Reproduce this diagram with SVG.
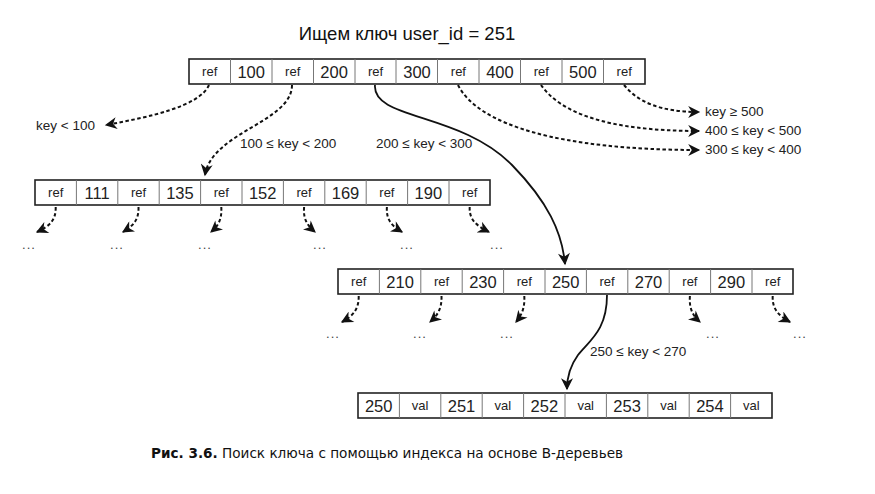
<svg xmlns="http://www.w3.org/2000/svg" width="875" height="494" viewBox="0 0 875 494">
<style>
.box{fill:#fff;stroke:#222;stroke-width:1.6}
.div{stroke:#777;stroke-width:1}
.ref{font-family:"Liberation Sans",Arial,sans-serif;font-size:13px;fill:#222;text-anchor:middle}
.num{font-family:"Liberation Sans",Arial,sans-serif;font-size:16.5px;fill:#222;text-anchor:middle}
.lbl{font-family:"Liberation Sans",Arial,sans-serif;font-size:13.5px;fill:#222}
.dots{font-family:"Liberation Sans",Arial,sans-serif;font-size:13px;letter-spacing:1px;fill:#444;text-anchor:middle}
.dash{fill:none;stroke:#111;stroke-width:2;stroke-dasharray:3.5 2.5}
.solid{fill:none;stroke:#111;stroke-width:1.8}
</style>
<defs>
<marker id="ah" viewBox="0 0 10 10" refX="9" refY="5" markerWidth="13" markerHeight="12" markerUnits="userSpaceOnUse" orient="auto">
<path d="M0,0 L10,5 L0,10 L3,5 z" fill="#111"/>
</marker>
</defs>
<text x="407" y="40" font-family="Liberation Sans,Arial,sans-serif" font-size="18.5" fill="#111" text-anchor="middle">Ищем ключ user_id = 251</text>

<g id="root">
<rect class="box" x="189" y="59" width="456" height="25"/>
<path class="div" d="M230.5,59V84M272,59V84M313.5,59V84M355,59V84M396,59V84M437.5,59V84M479,59V84M520.5,59V84M562,59V84M603.5,59V84"/>
<text class="ref" x="209.7" y="76">ref</text><text class="num" x="251.2" y="77.5">100</text>
<text class="ref" x="292.7" y="76">ref</text><text class="num" x="334.1" y="77.5">200</text>
<text class="ref" x="375.5" y="76">ref</text><text class="num" x="417" y="77.5">300</text>
<text class="ref" x="458.4" y="76">ref</text><text class="num" x="499.9" y="77.5">400</text>
<text class="ref" x="541.3" y="76">ref</text><text class="num" x="582.8" y="77.5">500</text>
<text class="ref" x="624.2" y="76">ref</text>
</g>

<g id="node100">
<rect class="box" x="35" y="180" width="455" height="25"/>
<path class="div" d="M76.4,180V205M117.8,180V205M159.2,180V205M200.6,180V205M242,180V205M283.4,180V205M324.8,180V205M366.2,180V205M407.6,180V205M449,180V205"/>
<text class="ref" x="55.7" y="197">ref</text><text class="num" x="97.1" y="198.5">111</text>
<text class="ref" x="138.5" y="197">ref</text><text class="num" x="179.9" y="198.5">135</text>
<text class="ref" x="221.3" y="197">ref</text><text class="num" x="262.7" y="198.5">152</text>
<text class="ref" x="304.1" y="197">ref</text><text class="num" x="345.5" y="198.5">169</text>
<text class="ref" x="386.9" y="197">ref</text><text class="num" x="428.3" y="198.5">190</text>
<text class="ref" x="469.7" y="197">ref</text>
</g>

<g id="node200">
<rect class="box" x="338" y="269" width="455" height="25"/>
<path class="div" d="M379.4,269V294M420.8,269V294M462.2,269V294M503.6,269V294M545,269V294M586.4,269V294M627.8,269V294M669.2,269V294M710.6,269V294M752,269V294"/>
<text class="ref" x="358.7" y="286">ref</text><text class="num" x="400.1" y="287.5">210</text>
<text class="ref" x="441.5" y="286">ref</text><text class="num" x="482.9" y="287.5">230</text>
<text class="ref" x="524.3" y="286">ref</text><text class="num" x="565.7" y="287.5">250</text>
<text class="ref" x="607.1" y="286">ref</text><text class="num" x="648.5" y="287.5">270</text>
<text class="ref" x="689.9" y="286">ref</text><text class="num" x="731.3" y="287.5">290</text>
<text class="ref" x="772.7" y="286">ref</text>
</g>

<g id="leaf">
<rect class="box" x="358" y="393" width="414" height="25"/>
<path class="div" d="M399.4,393V418M440.8,393V418M482.2,393V418M523.6,393V418M565,393V418M606.4,393V418M647.8,393V418M689.2,393V418M730.6,393V418"/>
<text class="num" x="378.7" y="411.5">250</text><text class="ref" x="420.1" y="410">val</text>
<text class="num" x="461.5" y="411.5">251</text><text class="ref" x="502.9" y="410">val</text>
<text class="num" x="544.3" y="411.5">252</text><text class="ref" x="585.7" y="410">val</text>
<text class="num" x="627.1" y="411.5">253</text><text class="ref" x="668.5" y="410">val</text>
<text class="num" x="709.9" y="411.5">254</text><text class="ref" x="751.3" y="410">val</text>
</g>

<g id="connectors">
<path class="dash" d="M209,85 C200,106 150,117 106,125" marker-end="url(#ah)"/>
<path class="dash" d="M292,85 C292,122 212,132 205,175" marker-end="url(#ah)"/>
<path class="solid" d="M375,85 C372,120 460,112 512,165 C548,202 562,232 565,264" marker-end="url(#ah)"/>
<path class="dash" d="M458,85 C478,125 560,150 699,150" marker-end="url(#ah)"/>
<path class="dash" d="M541,85 C560,112 605,131 699,131" marker-end="url(#ah)"/>
<path class="dash" d="M624,85 C638,102 660,112 699,112" marker-end="url(#ah)"/>

<path class="dash" d="M55.7,207 C56,220 50,226 37,232" marker-end="url(#ah)"/>
<path class="dash" d="M138.5,207 C139,220 133,226 123,232" marker-end="url(#ah)"/>
<path class="dash" d="M221.3,207 C222,220 218,226 211,232" marker-end="url(#ah)"/>
<path class="dash" d="M304.1,207 C303,220 308,226 315,232" marker-end="url(#ah)"/>
<path class="dash" d="M386.9,207 C386,220 392,226 402,232" marker-end="url(#ah)"/>
<path class="dash" d="M469.7,207 C469,220 477,226 489,232" marker-end="url(#ah)"/>

<path class="dash" d="M358.7,296 C359,309 353,316 342,322" marker-end="url(#ah)"/>
<path class="dash" d="M441.5,296 C442,309 437,316 430,322" marker-end="url(#ah)"/>
<path class="dash" d="M524.3,296 C525,309 521,316 516,322" marker-end="url(#ah)"/>
<path class="dash" d="M689.9,296 C689,309 693,316 700,322" marker-end="url(#ah)"/>
<path class="dash" d="M772.7,296 C772,309 779,316 790,322" marker-end="url(#ah)"/>

<path class="solid" d="M607,295 C607,330 590,340 578,355 C570,366 567,376 567,389" marker-end="url(#ah)"/>
</g>

<text class="lbl" x="36" y="130">key &lt; 100</text>
<text class="lbl" x="240" y="148">100 ≤ key &lt; 200</text>
<text class="lbl" x="376" y="148">200 ≤ key &lt; 300</text>
<text class="lbl" x="705" y="116">key ≥ 500</text>
<text class="lbl" x="705" y="135">400 ≤ key &lt; 500</text>
<text class="lbl" x="705" y="154">300 ≤ key &lt; 400</text>
<text class="lbl" x="590" y="356">250 ≤ key &lt; 270</text>

<text class="dots" x="29" y="249">...</text>
<text class="dots" x="117" y="249">...</text>
<text class="dots" x="205" y="249">...</text>
<text class="dots" x="320" y="249">...</text>
<text class="dots" x="407" y="249">...</text>
<text class="dots" x="497" y="249">...</text>
<text class="dots" x="333" y="338">...</text>
<text class="dots" x="420" y="338">...</text>
<text class="dots" x="507" y="338">...</text>
<text class="dots" x="713" y="338">...</text>
<text class="dots" x="800" y="338">...</text>

<text x="151" y="458" font-family="DejaVu Sans,Verdana,sans-serif" font-size="13.6" fill="#111"><tspan font-weight="bold">Рис. 3.6.</tspan> Поиск ключа с помощью индекса на основе B-деревьев</text>
</svg>
